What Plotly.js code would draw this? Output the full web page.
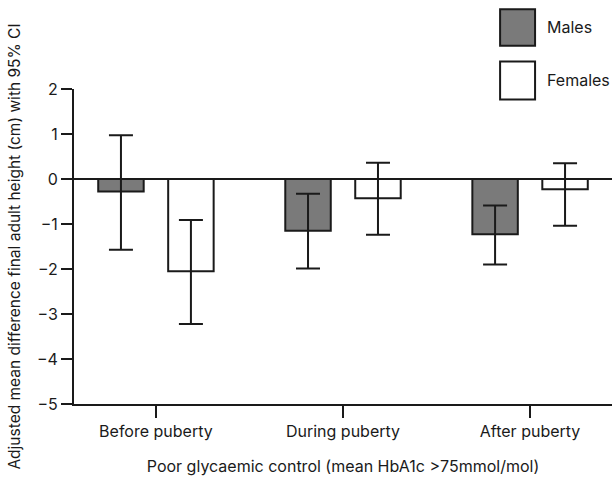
<!DOCTYPE html>
<html>
<head>
<meta charset="utf-8">
<script src="https://cdn.plot.ly/plotly-3.0.1.min.js"></script>
<style>html,body{margin:0;padding:0;background:#fff;}#chart{width:612px;height:481px;}</style>
</head>
<body>
<div id="chart"></div>
<script>
// Data
const categories = ["Before puberty", "During puberty", "After puberty"];
const seriesNames = ["Males", "Females"];
const malesMean = [-0.28, -1.15, -1.23];
const malesLower = [-1.57, -1.99, -1.90];
const malesUpper = [0.97, -0.33, -0.59];
const femalesMean = [-2.05, -0.43, -0.23];
const femalesLower = [-3.22, -1.24, -1.04];
const femalesUpper = [-0.91, 0.36, 0.35];
const yTickValues = [-5, -4, -3, -2, -1, 0, 1, 2];
const yTickLabels = ["\u22125", "\u22124", "\u22123", "\u22122", "\u22121", "0", "1", "2"];

const ink = "#1a1a1a";
const font = {family: "Inter, 'DejaVu Sans', sans-serif", size: 16, color: ink};

function errs(mean, lower, upper) {
  return {
    type: "data", symmetric: false,
    array: upper.map((u, i) => u - mean[i]),
    arrayminus: mean.map((m, i) => m - lower[i]),
    color: ink, thickness: 2, width: 12
  };
}

const traces = [
  {type: "bar", name: seriesNames[0], x: categories, y: malesMean,
   marker: {color: "#7a7a7a", line: {color: ink, width: 2}},
   error_y: errs(malesMean, malesLower, malesUpper), showlegend: false, hoverinfo: "x+y"},
  {type: "bar", name: seriesNames[1], x: categories, y: femalesMean,
   marker: {color: "#ffffff", line: {color: ink, width: 2}},
   error_y: errs(femalesMean, femalesLower, femalesUpper), showlegend: false, hoverinfo: "x+y"}
];

const layout = {
  width: 612, height: 481,
  margin: {l: 74, r: 0, t: 89, b: 77},
  paper_bgcolor: "#fff", plot_bgcolor: "#fff",
  font: font,
  barmode: "group", bargap: 0.252, bargroupgap: 0.35,
  showlegend: false,
  xaxis: {
    range: [-0.438, 2.438], showline: true, linecolor: ink, linewidth: 2,
    ticks: "outside", ticklen: 12, tickwidth: 2, tickcolor: ink,
    showgrid: false, zeroline: false, fixedrange: true,
    tickfont: font,
    title: {text: "Poor glycaemic control (mean HbA1c >75mmol/mol)", font: font, standoff: 21}
  },
  yaxis: {
    range: [-5, 2], tickvals: yTickValues, ticktext: yTickLabels,
    showline: true, linecolor: ink, linewidth: 2,
    ticks: "outside", ticklen: 11, tickwidth: 2, tickcolor: ink,
    showgrid: false, zeroline: true, zerolinecolor: ink, zerolinewidth: 2,
    fixedrange: true, tickfont: font,
    title: {text: "Adjusted mean difference final adult height (cm) with 95% CI", font: {family: font.family, size: 15.5, color: ink}, standoff: 12}
  },
  shapes: [
    {type: "rect", xref: "paper", yref: "paper", x0: 0.792, x1: 0.857, y0: 1.137, y1: 1.253,
     fillcolor: "#7a7a7a", line: {color: ink, width: 2}},
    {type: "rect", xref: "paper", yref: "paper", x0: 0.792, x1: 0.857, y0: 0.967, y1: 1.087,
     fillcolor: "#ffffff", line: {color: ink, width: 2}}
  ],
  annotations: [
    {xref: "paper", yref: "paper", x: 0.876, y: 1.197, text: seriesNames[0], showarrow: false,
     xanchor: "left", yanchor: "middle", font: font},
    {xref: "paper", yref: "paper", x: 0.876, y: 1.029, text: seriesNames[1], showarrow: false,
     xanchor: "left", yanchor: "middle", font: font}
  ]
};

Plotly.newPlot("chart", traces, layout, {displayModeBar: false, staticPlot: true});
</script>
</body>
</html>
